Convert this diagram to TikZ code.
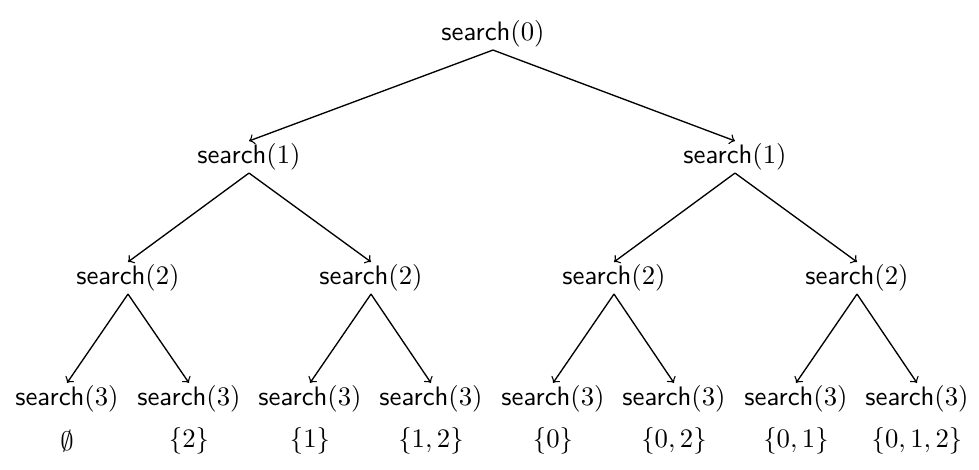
\documentclass[tikz,border=0pt]{standalone}
\usetikzlibrary{arrows}
\begin{document}
\begin{tikzpicture}[x=0.374pt,y=-0.374pt,
  call/.style={inner sep=0.8pt},
  setlab/.style={inner sep=0pt},
  edge/.style={->,line width=0.5pt}]
\useasboundingbox (0,0) rectangle (979,469);
\newcommand{\srch}[1]{$\textsf{search}(#1)$}
% root
\node[call] (r) at (493,34) {\srch{0}};
% level 1
\node[call] (a) at (249,157) {\srch{1}};
\node[call] (b) at (735,157) {\srch{1}};
% level 2
\node[call] (aa) at (128,278) {\srch{2}};
\node[call] (ab) at (371,278) {\srch{2}};
\node[call] (ba) at (614,278) {\srch{2}};
\node[call] (bb) at (857,278) {\srch{2}};
% level 3
\node[call] (l1) at (67,399) {\srch{3}};
\node[call] (l2) at (189,399) {\srch{3}};
\node[call] (l3) at (310,399) {\srch{3}};
\node[call] (l4) at (431,399) {\srch{3}};
\node[call] (l5) at (553,399) {\srch{3}};
\node[call] (l6) at (674,399) {\srch{3}};
\node[call] (l7) at (796,399) {\srch{3}};
\node[call] (l8) at (917,399) {\srch{3}};
% sets
\node[setlab] (s1) at (67,441) {$\emptyset$};
\node[setlab] (s2) at (189,441) {$\{2\}$};
\node[setlab] (s3) at (310,441) {$\{1\}$};
\node[setlab] (s4) at (431,441) {$\{1,2\}$};
\node[setlab] (s5) at (553,441) {$\{0\}$};
\node[setlab] (s6) at (674,441) {$\{0,2\}$};
\node[setlab] (s7) at (796,441) {$\{0,1\}$};
\node[setlab] (s8) at (917,441) {$\{0,1,2\}$};
% edges
\foreach \p/\c in {r/a,r/b,a/aa,a/ab,b/ba,b/bb,aa/l1,aa/l2,ab/l3,ab/l4,ba/l5,ba/l6,bb/l7,bb/l8}
  \draw[edge] (\p.south) -- (\c.north);
\end{tikzpicture}
\end{document}
